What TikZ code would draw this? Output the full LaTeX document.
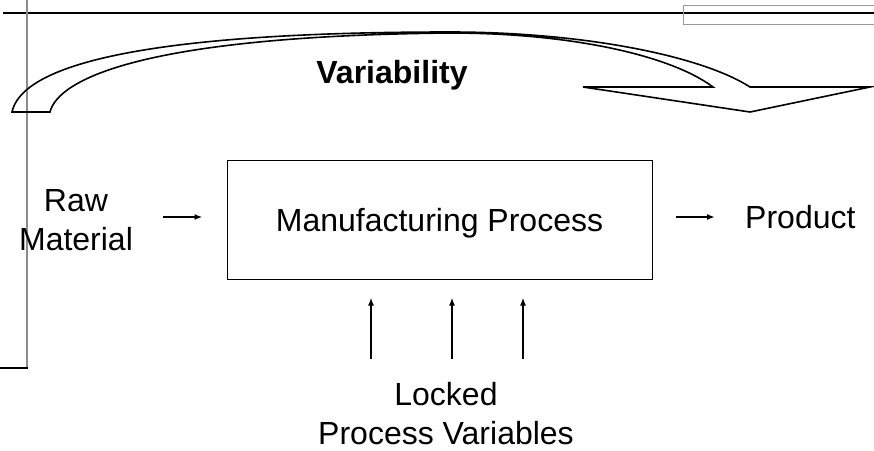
\documentclass[tikz,border=0pt]{standalone}
\usepackage{fontspec}
\setmainfont{Liberation Sans}
\usetikzlibrary{arrows.meta,positioning}
\tikzset{
  proc/.style={
    draw,
    line width=1pt,
    minimum width=425pt,
    minimum height=119pt,
    text depth=0pt,
    align=center,
    font=\fontsize{32}{39}\selectfont
  },
  lbl/.style={
    align=center,
    inner sep=0pt,
    font=\fontsize{32}{39}\selectfont
  },
  band/.style={line width=1.6pt, line join=miter},
  flow/.style={-{Latex[length=8pt,width=6pt]}, line width=1.9pt},
  frame/.style={draw=gray!90, line width=1.2pt}
}
\begin{document}
\begin{tikzpicture}[x=1pt,y=-1pt]
  \useasboundingbox (0,0) rectangle (874,450);

  % page frame pieces
  \draw[line width=1.1pt] (3,13) -- (874,13);
  \draw[frame] (27,0) -- (27,368);
  \draw[line width=2pt] (0,368) -- (28,368);
  \draw[draw=gray!80, line width=1pt] (683,5) rectangle (890,24);

  % curved variability arrow
  \draw[band] (12,112) -- (50,112)
    .. controls (58,80) and (140,36) .. (450,33)
    .. controls (570,33) and (670,55) .. (713,87)
    -- (583,87) -- (750,112) -- (870,87) -- (750,87)
    .. controls (700,55) and (580,32) .. (450,32)
    .. controls (100,32) and (20,75) .. cycle;
  \node[lbl, anchor=base, font=\fontsize{32}{39}\selectfont\bfseries] (var) at (392,83) {Variability};

  \node[proc] (proc) at (439.5,219.5) {Manufacturing Process};
  \node[lbl] (raw) at (76,220) {Raw\\Material};
  \node[lbl, anchor=base west] (prod) at (745,228) {Product};
  \node[lbl] (lock) at (446,414) {Locked\\Process Variables};

  \coordinate (rawout) at (163,217);
  \coordinate (prodin) at (676,217);
  \draw[flow] (rawout) -- ([xshift=-24pt]proc.west |- rawout);
  \draw[flow] (prodin) -- ([xshift=-30pt]prod.west |- prodin);

  \foreach \x/\n in {371/a,452/b,523/c}{
    \coordinate (lv\n) at (\x,359);
    \draw[flow, shorten >=18pt] (lv\n) -- (lv\n |- proc.south);
  }
\end{tikzpicture}
\end{document}
